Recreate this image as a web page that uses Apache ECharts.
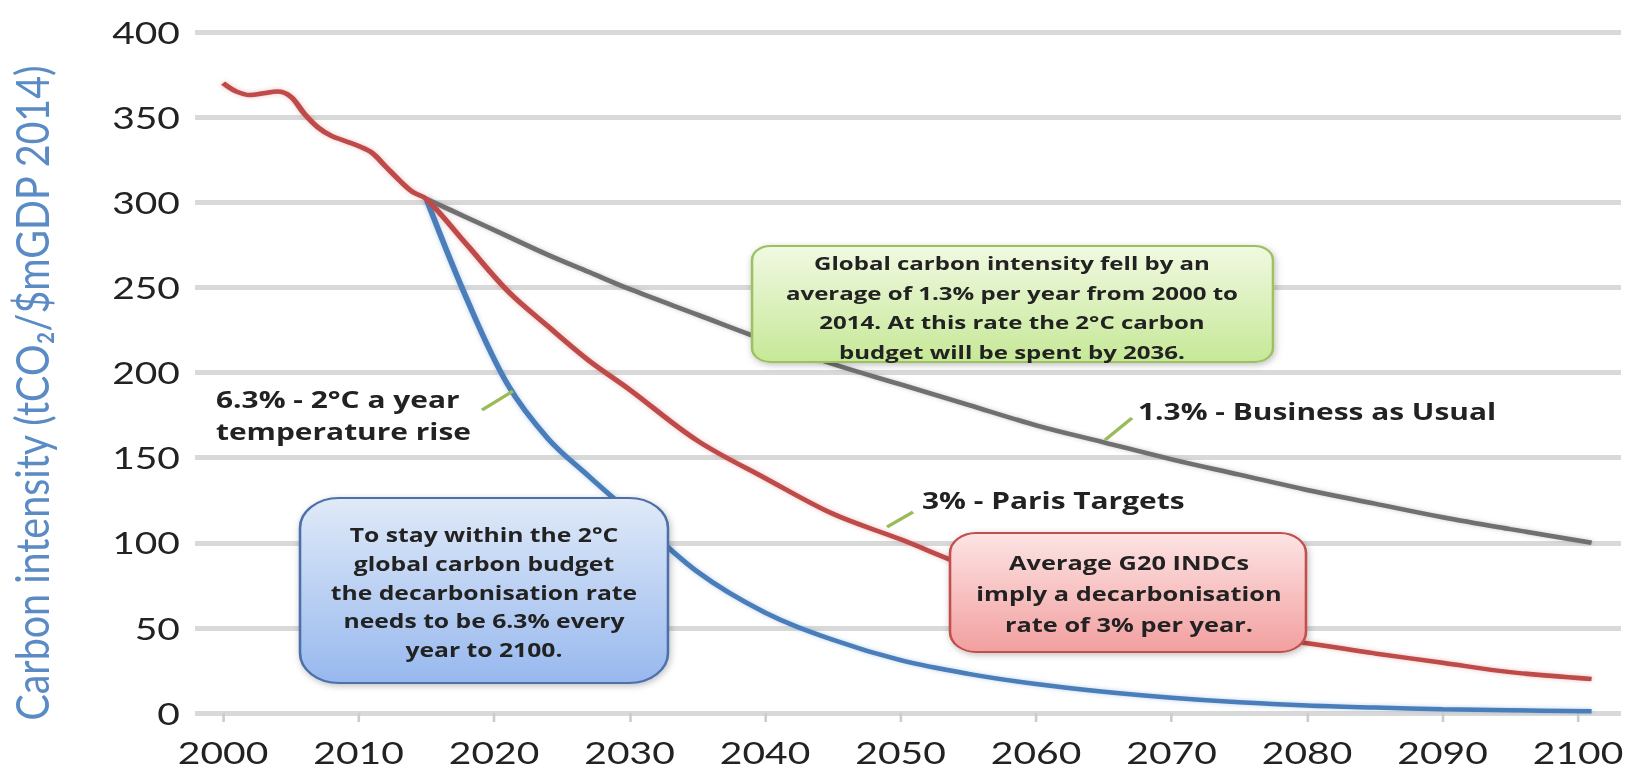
<!DOCTYPE html>
<html>
<head>
<meta charset="utf-8">
<script src="https://cdn.jsdelivr.net/npm/echarts@6/dist/echarts.min.js"></script>
<style>
  html, body { margin: 0; padding: 0; background: #ffffff; overflow: hidden; }
  #chart { height: 771px; transform-origin: 0 0; }
</style>
</head>
<body>
<div id="chart"></div>
<script>
// Horizontal stretch of the whole drawing (wide, Excel-export look)
const SX = 1.3;
const W = 1633, H = 771;

// ---- data ----
const tickYears = [2000, 2010, 2020, 2030, 2040, 2050, 2060, 2070, 2080, 2090, 2100];

// Observed carbon intensity 2000-2015
const histYears  = [2000, 2001, 2002, 2003, 2004, 2005, 2006, 2007, 2008, 2009, 2010, 2011, 2012, 2013, 2014, 2015];
const histValues = [370, 365, 363, 364, 365, 362, 352, 344, 339, 336, 333, 329, 321, 313, 306, 302];

// Projection years shared by the three pathways
const projYears = [2015, 2018, 2021, 2024, 2027, 2030, 2035, 2040, 2045, 2050, 2055, 2060, 2065, 2070, 2075, 2080, 2085, 2090, 2095, 2101];
// 1.3% - Business as Usual
const bauValues   = [302, 291, 280, 269, 259, 249, 234, 219, 205, 193, 181, 169, 159, 149, 140, 131, 123, 115, 108, 100];
// 3% - Paris Targets
const parisValues = [302, 275, 248, 227, 207, 190, 160, 138, 117, 102, 86, 73, 62, 53, 46, 41, 35, 29.5, 24, 20];
// 6.3% - 2°C pathway
const twoDegValues = [302, 243, 193, 161, 139, 118, 83, 59, 43, 31, 23, 17, 12.5, 9, 6.3, 4.4, 3.2, 2.2, 1.6, 1];

const pairs = (xs, ys) => xs.map((x, i) => [x, ys[i]]);
const redData = pairs(histYears, histValues).concat(pairs(projYears.slice(1), parisValues.slice(1)));

// ---- layout helpers (final pixel x -> chart units) ----
const px = v => v / SX;
const el = document.getElementById('chart');
el.style.width = (W / SX) + 'px';
el.style.transform = 'scaleX(' + SX + ')';

const chart = echarts.init(el, null, { renderer: 'svg', width: W / SX, height: H });

const FONT = 'Lato, "Open Sans", sans-serif';
const NOTE_FONT = '"Open Sans", Lato, sans-serif';
const TEXT_DARK = '#222222';

function grad(top, bottom) {
  return new echarts.graphic.LinearGradient(0, 0, 0, 1, [
    { offset: 0, color: top }, { offset: 1, color: bottom }
  ]);
}
function box(x1, y1, x2, y2, r, fill, stroke) {
  return {
    type: 'rect', z: 100,
    shape: { x: px(x1), y: y1, width: px(x2 - x1), height: y2 - y1, r: r },
    style: { fill: fill, stroke: stroke, lineWidth: 2,
             shadowBlur: 6, shadowColor: 'rgba(0,0,0,0.25)', shadowOffsetX: 1, shadowOffsetY: 2 }
  };
}
function text(x, y, str, size, lh, align) {
  return {
    type: 'text', z: 101,
    style: {
      x: px(x), y: y, text: str,
      fontFamily: NOTE_FONT, fontWeight: 'bold', fontSize: size, lineHeight: lh,
      fill: TEXT_DARK,
      align: align, verticalAlign: 'middle',
      textAlign: align, textVerticalAlign: 'middle'
    }
  };
}
function leader(x1, y1, x2, y2) {
  return {
    type: 'line', z: 99,
    shape: { x1: px(x1), y1: y1, x2: px(x2), y2: y2 },
    style: { stroke: '#9bbb59', lineWidth: 3 }
  };
}

const lineSeries = (name, data, color, z) => ({
  name: name, type: 'line', data: data, symbol: 'none', smooth: 0.35, z: z,
  lineStyle: { color: color, width: 4.5, shadowBlur: 4, shadowColor: color.replace(')', ',0.35)').replace('rgb', 'rgba') },
  emphasis: { disabled: true }
});

const option = {
  backgroundColor: '#ffffff',
  animation: false,
  grid: { left: px(195), right: px(W - 1621), top: 32, bottom: H - 713, containLabel: false },
  xAxis: {
    type: 'value', min: 1997.93, max: 2103.17,
    axisLine: { show: false },
    axisTick: { show: true, customValues: tickYears, length: 9, lineStyle: { color: '#cccccc', width: 2 } },
    axisLabel: { customValues: tickYears, formatter: v => String(v),
                 fontSize: 30, fontFamily: FONT, color: TEXT_DARK, margin: 24 },
    splitLine: { show: false }
  },
  yAxis: {
    type: 'value', min: 0, max: 400, interval: 50,
    axisLine: { show: false }, axisTick: { show: false },
    axisLabel: { fontSize: 30, fontFamily: FONT, color: TEXT_DARK, margin: px(15) },
    splitLine: { lineStyle: { color: '#d9d9d9', width: 5 } }
  },
  series: [
    lineSeries('1.3% - Business as Usual', pairs(projYears, bauValues), 'rgb(112,112,112)', 2),
    lineSeries('6.3% - 2°C', pairs(projYears, twoDegValues), 'rgb(74,126,187)', 3),
    lineSeries('3% - Paris Targets', redData, 'rgb(190,75,72)', 4)
  ],
  graphic: [
    // axis title
    {
      type: 'text', z: 50, x: px(31), y: 393, rotation: Math.PI / 2, scaleX: 1.095,
      style: { x: 0, y: 0, text: 'Carbon intensity (tCO₂/$mGDP 2014)',
               fontFamily: FONT, fontSize: 36, fill: '#5b8bc4',
               align: 'center', verticalAlign: 'middle', textAlign: 'center', textVerticalAlign: 'middle' }
    },
    // green note
    box(752, 246, 1273, 362, 14, grad('#f1f9e2', '#c6e897'), '#9dc064'),
    text(1012, 307, 'Global carbon intensity fell by an\naverage of 1.3% per year from 2000 to\n2014. At this rate the 2°C carbon\nbudget will be spent by 2036.', 18.5, 29.5, 'center'),
    // blue note
    box(300, 498, 668, 683, 30, grad('#e0eaf8', '#97b8ee'), '#4e6fa8'),
    text(484, 592, 'To stay within the 2°C\nglobal carbon budget\nthe decarbonisation rate\nneeds to be 6.3% every\nyear to 2100.', 19, 28.7, 'center'),
    // pink note
    box(950, 533, 1306, 652, 20, grad('#fde4e4', '#f29f9f'), '#c0504d'),
    text(1129, 594, 'Average G20 INDCs\nimply a decarbonisation\nrate of 3% per year.', 19.5, 31, 'center'),
    // series labels
    text(216, 415, '6.3% - 2°C a year\ntemperature rise', 23, 32, 'left'),
    leader(482, 410, 513, 391),
    text(922, 500, '3% - Paris Targets', 23, 30, 'left'),
    leader(887, 527, 913, 512),
    text(1138, 411, '1.3% - Business as Usual', 23, 30, 'left'),
    leader(1105, 440, 1132, 418)
  ]
};

chart.setOption(option);
</script>
</body>
</html>
